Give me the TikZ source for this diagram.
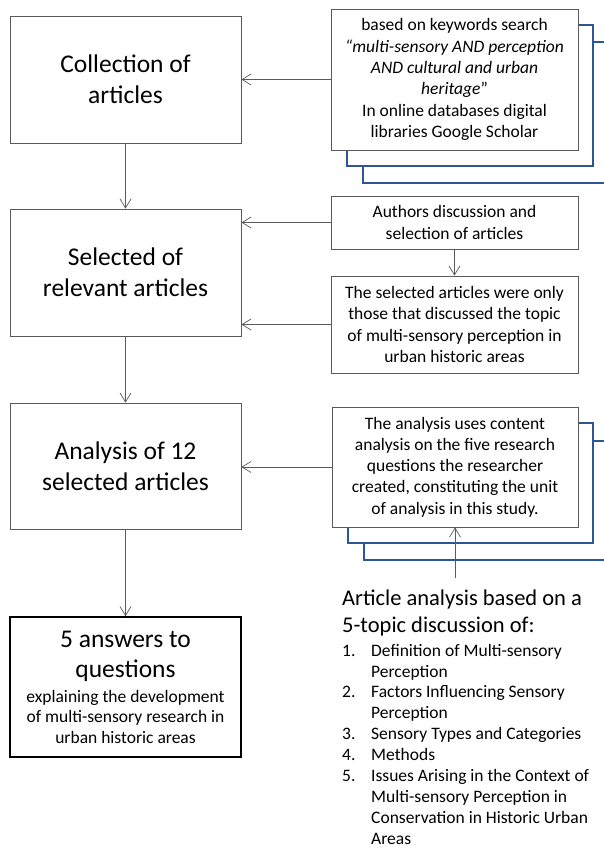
\documentclass[tikz,border=0pt]{standalone}
\usepackage{fontspec}
\setmainfont{Carlito}
\usetikzlibrary{arrows.meta}
\definecolor{boxgray}{HTML}{5A5A5A}
\definecolor{frameblue}{HTML}{2F5597}
\newcommand{\notefont}{\fontsize{17.5}{21.3}\selectfont}
\newcommand{\headfont}{\fontsize{22.5}{26.5}\selectfont}
\newcommand{\topicitem}[1]{\makebox[29pt][l]{#1}}
\begin{document}
\begin{tikzpicture}[x=1pt,y=-1pt]
  \tikzset{ stepbox/.style={draw=boxgray,line width=0.8pt,fill=white,align=center,inner sep=2pt},
    big/.style={stepbox,minimum width=231pt,font=\fontsize{25.5}{31}\selectfont},
    note/.style={stepbox,minimum width=247pt,font=\notefont},
    arr/.style={draw=boxgray,line width=0.7pt,-{Straight Barb[length=9pt,width=11pt]}},
    stack/.style={draw=frameblue,fill=white,line width=1.2pt},
  }
  \useasboundingbox (0,0) rectangle (603,848);

  % the stacked frames behind the notes
  \draw[stack] (363,42) rectangle (620,183);
  \draw[stack] (347,25) rectangle (593,166);
  \draw[stack] (364,441) rectangle (620,560);
  \draw[stack] (348,423) rectangle (593,543);

  % main steps
  \node[big,minimum height=127pt] (collect) at (125.5,79.5) {Collection of\\articles};
  \node[big,minimum height=127pt] (select) at (125.5,272.5) {Selected of\\relevant articles};
  \node[big,minimum height=126pt] (analysis) at (125.5,466) {Analysis of 12\\selected articles};
  \node[big,draw=black,line width=1.5pt,minimum height=140pt] (answers) at (125.5,687)
    {5 answers to\\[-1pt]questions\\[-6pt]\notefont explaining the development\\[-10.5pt]\notefont of multi-sensory research in\\[-10.5pt]\notefont urban historic areas};

  % notes on the right
  \node[note,minimum height=141pt] (search) at (454.5,79.5)
    {based on keywords search\\\textit{“multi-sensory AND perception}\\\textit{AND cultural and urban}\\\textit{heritage}”\\In online databases digital\\libraries Google Scholar};
  \node[note,minimum height=53pt] (authors) at (454.5,222.5) {Authors discussion and\\selection of articles};
  \node[note,minimum height=97pt] (criteria) at (454.5,324.5)
    {The selected articles were only\\those that discussed the topic\\of multi-sensory perception in\\urban historic areas};
  \node[note,minimum width=246pt,minimum height=120pt] (content) at (455,467)
    {The analysis uses content\\analysis on the five research\\questions the researcher\\created, constituting the unit\\of analysis in this study.};

  \node[anchor=north west,inner sep=0pt,align=left,font=\fontsize{17.5}{20.9}\selectfont] (topics) at (342,590)
    {\headfont Article analysis based on a\\[5.5pt]\headfont 5-topic discussion of:\\[3pt]
     \topicitem{1.}Definition of Multi-sensory\\\hspace*{29pt}Perception\\
     \topicitem{2.}Factors Influencing Sensory\\\hspace*{29pt}Perception\\
     \topicitem{3.}Sensory Types and Categories\\
     \topicitem{4.}Methods\\
     \topicitem{5.}Issues Arising in the Context of\\\hspace*{29pt}Multi-sensory Perception in\\\hspace*{29pt}Conservation in Historic Urban\\\hspace*{29pt}Areas};

  % the connections between the boxes
  \draw[arr] (collect) -- (select);
  \draw[arr] (select) -- (analysis);
  \draw[arr] (analysis) -- (answers);
  \draw[arr] (search.west) -- (collect.east);
  \draw[arr] (authors.west) -- (authors.west -| select.east);
  \draw[arr] (criteria.west) -- (criteria.west -| select.east);
  \draw[arr] (content.west) -- (content.west -| analysis.east);
  \draw[arr] (authors) -- (criteria);
  \draw[arr] (topics.north -| content.south) ++(0,-12) -- (content.south);
\end{tikzpicture}
\end{document}
